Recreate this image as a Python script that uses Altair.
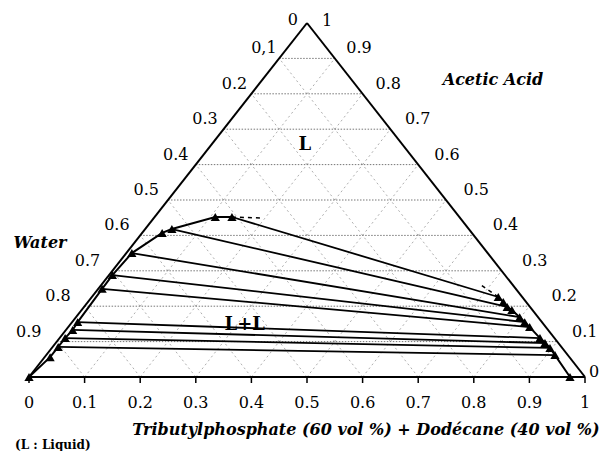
import altair as alt
import pandas as pd

# Compositions (fractions): solvent = TBP(60 vol%)+dodecane(40 vol%), acid = acetic acid,
# water = 1 - solvent - acid
aq_solvent = [0.000, 0.010, 0.010, 0.010, 0.012, 0.010, 0.007, 0.006, 0.010, 0.036, 0.048, 0.109, 0.139]
aq_acid = [0.000, 0.056, 0.085, 0.110, 0.133, 0.155, 0.249, 0.288, 0.350, 0.407, 0.418, 0.452, 0.452]
org_solvent = [0.731, 0.747, 0.761, 0.774, 0.798, 0.814, 0.830, 0.864, 0.880, 0.896, 0.915, 0.973]
org_acid = [0.226, 0.212, 0.198, 0.189, 0.169, 0.155, 0.141, 0.110, 0.096, 0.082, 0.062, 0.000]
# tie lines: index into aqueous / organic points
tie_aq = [12, 10, 8, 7, 6, 5, 4, 3, 2]
tie_org = [0, 2, 4, 5, 6, 7, 8, 9, 10]
# dashed extrapolations toward the plait point
aq_ext_solvent = [0.139, 0.195]
aq_ext_acid = [0.452, 0.449]
org_ext_solvent = [0.731, 0.683]
org_ext_acid = [0.226, 0.260]

grid_levels = [0.1, 0.2, 0.3, 0.4, 0.5, 0.6, 0.7, 0.8, 0.9]
bottom_ticks = [0.0, 0.1, 0.2, 0.3, 0.4, 0.5, 0.6, 0.7, 0.8, 0.9, 1.0]
bottom_labels = ["0", "0.1", "0.2", "0.3", "0.4", "0.5", "0.6", "0.7", "0.8", "0.9", "1"]
left_values = [0.1, 0.2, 0.3, 0.4, 0.5, 0.6, 0.7, 0.8, 0.9]
left_labels = ["0,1", "0.2", "0.3", "0.4", "0.5", "0.6", "0.7", "0.8", "0.9"]
right_values = [0.9, 0.8, 0.7, 0.6, 0.5, 0.4, 0.3, 0.2, 0.1]
right_labels = ["0.9", "0.8", "0.7", "0.6", "0.5", "0.4", "0.3", "0.2", "0.1"]

# pixel -> data unit conversion (base of triangle is 556 px wide, 354 px high)
PX = 1 / 556
PY = 1 / 354
W, H = 591, 443


def tx(s, a):
    return s + a / 2


FONT = "DejaVu Serif"

xs = alt.Scale(domain=[-21 * PX, (W - 21) * PX], nice=False, zero=False)
ys = alt.Scale(domain=[(369 - H) * PY, 369 * PY], nice=False, zero=False)


def X(f):
    return alt.X(f, type="quantitative", scale=xs, axis=None)


def Y(f):
    return alt.Y(f, type="quantitative", scale=ys, axis=None)


# grid lines
rows_h, rows_d = [], []
for g in grid_levels:
    rows_h.append(dict(x=tx(0, g), y=g, x2=tx(1 - g, g), y2=g))
    rows_d.append(dict(x=tx(g, 0), y=0, x2=tx(g, 1 - g), y2=1 - g))
    rows_d.append(dict(x=tx(g, 0), y=0, x2=tx(0, g), y2=g))
grid_h = alt.Chart(pd.DataFrame(rows_h)).mark_rule(
    color="#777777", strokeWidth=1, strokeDash=[1.5, 1.5]
).encode(x=X("x"), y=Y("y"), x2="x2", y2="y2")
grid_d = alt.Chart(pd.DataFrame(rows_d)).mark_rule(
    color="#999999", strokeWidth=0.8, strokeDash=[2, 3]
).encode(x=X("x"), y=Y("y"), x2="x2", y2="y2")

# triangle frame
frame = pd.DataFrame([
    dict(x=tx(0, 0), y=0, x2=tx(1, 0), y2=0),
    dict(x=tx(0, 0), y=0, x2=tx(0, 1), y2=1),
    dict(x=tx(1, 0), y=0, x2=tx(0, 1), y2=1),
])
frame_c = alt.Chart(frame).mark_rule(color="black", strokeWidth=2).encode(
    x=X("x"), y=Y("y"), x2="x2", y2="y2")

ticks_df = pd.DataFrame(dict(x=bottom_ticks, y=[0.0] * len(bottom_ticks),
                             y2=[-6 * PY] * len(bottom_ticks)))
ticks_c = alt.Chart(ticks_df).mark_rule(color="black", strokeWidth=1.5).encode(
    x=X("x"), y=Y("y"), y2="y2")

# tie lines
ties = pd.DataFrame([
    dict(x=tx(aq_solvent[i], aq_acid[i]), y=aq_acid[i],
         x2=tx(org_solvent[j], org_acid[j]), y2=org_acid[j])
    for i, j in zip(tie_aq, tie_org)
])
ties_c = alt.Chart(ties).mark_rule(color="black", strokeWidth=1.8).encode(
    x=X("x"), y=Y("y"), x2="x2", y2="y2")

aq = pd.DataFrame(dict(x=[tx(s, a) for s, a in zip(aq_solvent, aq_acid)], y=aq_acid,
                       o=list(range(len(aq_acid)))))
org = pd.DataFrame(dict(x=[tx(s, a) for s, a in zip(org_solvent, org_acid)], y=org_acid,
                        o=list(range(len(org_acid)))))
aq_line = alt.Chart(aq).mark_line(color="black", strokeWidth=2).encode(
    x=X("x"), y=Y("y"), order="o:Q")
org_line = alt.Chart(org).mark_line(color="black", strokeWidth=2).encode(
    x=X("x"), y=Y("y"), order="o:Q")

ext = pd.DataFrame(dict(
    x=[tx(s, a) for s, a in zip(aq_ext_solvent, aq_ext_acid)] +
      [tx(s, a) for s, a in zip(org_ext_solvent, org_ext_acid)],
    y=aq_ext_acid + org_ext_acid,
    g=["aq", "aq", "org", "org"], o=[0, 1, 0, 1]))
ext_c = alt.Chart(ext).mark_line(color="black", strokeWidth=1.5, strokeDash=[4, 4]).encode(
    x=X("x"), y=Y("y"), detail="g:N", order="o:Q")

pts = pd.concat([aq, org])
pts_c = alt.Chart(pts).mark_point(shape="triangle-up", filled=True, color="black",
                                  size=85, opacity=1).encode(x=X("x"), y=Y("y"))

# axis labels
bl = pd.DataFrame(dict(x=bottom_ticks, y=[-26 * PY] * len(bottom_ticks), t=bottom_labels))
bl_c = alt.Chart(bl).mark_text(font=FONT, fontSize=16, baseline="middle", align="center",
                               color="black").encode(x=X("x"), y=Y("y"), text="t:N")

ll = pd.DataFrame(dict(
    x=[tx(0, 1 - w) - (1 + 16 * w) * PX for w in left_values],
    y=[1 - w + 10 * PY for w in left_values], t=left_labels))
ll_c = alt.Chart(ll).mark_text(font=FONT, fontSize=16, baseline="middle", align="right",
                               color="black").encode(x=X("x"), y=Y("y"), text="t:N")

# right labels: offset grows toward the base, but kept inside the drawing (max x)
x_right_max = (W - 21 - 27) * PX
rl = pd.DataFrame(dict(
    x=[min(tx(1 - a, a) + (10 + 15 * (1 - a)) * PX, x_right_max) for a in right_values],
    y=[a + 10 * PY for a in right_values], t=right_labels))
rl_c = alt.Chart(rl).mark_text(font=FONT, fontSize=16, baseline="middle", align="left",
                               color="black").encode(x=X("x"), y=Y("y"), text="t:N")

apex = pd.DataFrame(dict(
    x=[0.5 - 9 * PX, 0.5 + 15 * PX, 1 + 4 * PX],
    y=[1 + 3 * PY, 1 + 2 * PY, 5 * PY],
    t=["0", "1", "0"], a=["right", "left", "left"]))
apex_l = alt.Chart(apex[apex.a == "right"]).mark_text(
    font=FONT, fontSize=16, baseline="middle", align="right", color="black").encode(
    x=X("x"), y=Y("y"), text="t:N")
apex_r = alt.Chart(apex[apex.a == "left"]).mark_text(
    font=FONT, fontSize=16, baseline="middle", align="left", color="black").encode(
    x=X("x"), y=Y("y"), text="t:N")

# titles / annotations
titles = pd.DataFrame(dict(
    x=[0.8345, 0.0198, 0.606],
    y=[0.839, 0.379, -0.150],
    t=["Acetic Acid", "Water", "Tributylphosphate  (60 vol %) + Dodécane (40 vol %)"]))
titles_c = alt.Chart(titles).mark_text(
    font=FONT, fontSize=16, fontWeight="bold", fontStyle="italic", baseline="middle",
    align="center", color="black").encode(x=X("x"), y=Y("y"), text="t:N")

regions = pd.DataFrame(dict(x=[0.496, 0.388], y=[0.655, 0.147], t=["L", "L+L"]))
regions_c = alt.Chart(regions).mark_text(
    font=FONT, fontSize=18, fontWeight="bold", baseline="middle", align="center",
    color="black").encode(x=X("x"), y=Y("y"), text="t:N")

note = pd.DataFrame(dict(x=[-14 * PX], y=[-0.192], t=["(L : Liquid)"]))
note_c = alt.Chart(note).mark_text(
    font=FONT, fontSize=12, fontWeight="bold", baseline="middle", align="left",
    color="black").encode(x=X("x"), y=Y("y"), text="t:N")

chart = alt.layer(
    grid_d, grid_h, frame_c, ticks_c, ties_c, aq_line, org_line, ext_c, pts_c,
    bl_c, ll_c, rl_c, apex_l, apex_r, titles_c, regions_c, note_c
).properties(
    width=W, height=H,
    autosize=alt.AutoSizeParams(type="none"), padding=0,
    background="white"
).configure_view(stroke=None)

chart.save("out.html", embed_options={"renderer": "svg", "actions": False})
